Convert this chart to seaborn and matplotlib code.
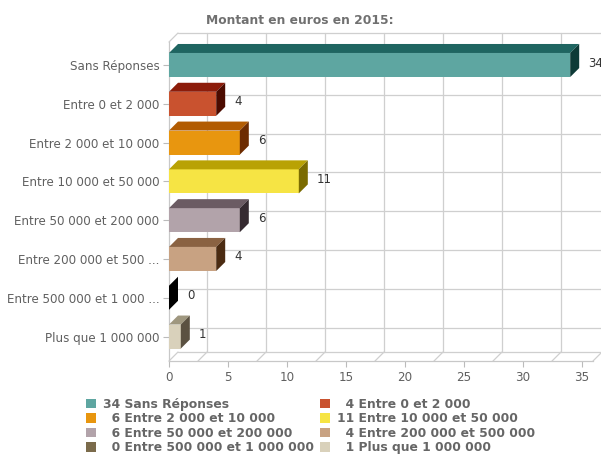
import matplotlib
matplotlib.use("Agg")
import matplotlib.pyplot as plt
from matplotlib.patches import Polygon, Patch
import seaborn as sns
import pandas as pd

# Survey answers: amount in euros, 2015
categories = [
    "Sans Réponses",
    "Entre 0 et 2 000",
    "Entre 2 000 et 10 000",
    "Entre 10 000 et 50 000",
    "Entre 50 000 et 200 000",
    "Entre 200 000 et 500 000",
    "Entre 500 000 et 1 000 000",
    "Plus que 1 000 000",
]
tick_labels = [
    "Sans Réponses",
    "Entre 0 et 2 000",
    "Entre 2 000 et 10 000",
    "Entre 10 000 et 50 000",
    "Entre 50 000 et 200 000",
    "Entre 200 000 et 500 ...",
    "Entre 500 000 et 1 000 ...",
    "Plus que 1 000 000",
]
counts = [34, 4, 6, 11, 6, 4, 0, 1]

# face colours: front, top, side
front_colors = ["#5ea6a1", "#c9522f", "#e8960f", "#f6e444", "#b2a3aa", "#c8a282", "#1a1a1a", "#d9d1bb"]
top_colors = ["#1f6561", "#8c1c0a", "#b25c02", "#b9a204", "#6b5b63", "#8a6242", "#111111", "#9f977f"]
side_colors = ["#0e3a37", "#4c0b00", "#6d2b00", "#7b6b00", "#362b31", "#4b2b12", "#000000", "#5b5141"]
legend_colors = ["#5ea6a1", "#c9522f", "#e8960f", "#f6e444", "#b2a3aa", "#c8a282", "#7b6b4b", "#d9d1bb"]

df = pd.DataFrame({"categorie": categories, "nombre": counts})

sns.set_theme(style="white")
plt.rcParams["font.family"] = ["DejaVu Sans"]

W, H = 601, 454
fig = plt.figure(figsize=(W / 100, H / 100), dpi=100)
left_px, right_px, top_px, bottom_px = 169, 593, 42, 361
ax = fig.add_axes([left_px / W, 1 - bottom_px / H,
                   (right_px - left_px) / W, (bottom_px - top_px) / H])

px_per_unit = 11.8
xmax = (right_px - left_px) / px_per_unit
ymin, ymax = -0.593, 7.63
ax.set_xlim(0, xmax)

sns.barplot(data=df, x="nombre", y="categorie", hue="categorie",
            palette=front_colors, orient="h", width=0.62, legend=False,
            saturation=1, ax=ax, linewidth=0, zorder=3)
ax.set_ylim(ymax, ymin)

# depth of the 3D effect, in data units
depth_px = 9
ddx = depth_px / px_per_unit
ddy = depth_px / ((bottom_px - top_px) / (ymax - ymin))

grid_kw = dict(color="#cfcfcf", lw=0.9, zorder=1, clip_on=False)

# back wall and floor
back_top = ymin - ddy
back_bottom = ymax - ddy
ax.plot([ddx, xmax + ddx], [back_top, back_top], **grid_kw)
ax.plot([ddx, xmax + ddx], [back_bottom, back_bottom], **grid_kw)
ax.plot([0, ddx], [ymin, back_top], **grid_kw)
ax.plot([0, ddx], [ymax, back_bottom], **grid_kw)
ax.plot([xmax, xmax + ddx], [ymax, back_bottom], **grid_kw)
grid_x = [2.46 + 5 * k for k in range(7)]
for gx in grid_x:
    ax.plot([gx + ddx, gx + ddx], [back_top, back_bottom], **grid_kw)
    ax.plot([gx, gx + ddx], [ymax, back_bottom], **grid_kw)
for k in range(1, len(categories)):
    ax.plot([ddx, xmax + ddx], [k - ddy, k - ddy], **grid_kw)

# 3D faces on each bar
for p in ax.patches:
    x0, y0 = p.get_x(), p.get_y()
    w, h = p.get_width(), p.get_height()
    i = int(round(y0 + h / 2))
    top = Polygon([(x0, y0), (x0 + w, y0), (x0 + w + ddx, y0 - ddy), (x0 + ddx, y0 - ddy)],
                  closed=True, facecolor=top_colors[i], edgecolor="none", zorder=4)
    side = Polygon([(x0 + w, y0), (x0 + w + ddx, y0 - ddy), (x0 + w + ddx, y0 + h - ddy), (x0 + w, y0 + h)],
                   closed=True, facecolor=side_colors[i], edgecolor="none", zorder=4)
    ax.add_patch(top)
    ax.add_patch(side)
    ax.annotate(str(counts[i]), xy=(x0 + w, i), xytext=(18, 2),
                textcoords="offset pixels", ha="left", va="center",
                fontsize=8.5, color="#333333", annotation_clip=False, zorder=5)

ax.set_xticks(range(0, 36, 5))
ax.set_yticks(range(len(categories)))
ax.set_yticklabels(tick_labels)
ax.set_xlabel("")
ax.set_ylabel("")
ax.tick_params(axis="both", colors="#bbbbbb", labelcolor="#606060", labelsize=8.6,
               length=4, width=0.8, direction="out", left=True, bottom=True, pad=3)
for s in ["top", "right"]:
    ax.spines[s].set_visible(False)
for s in ["left", "bottom"]:
    ax.spines[s].set_color("#c8c8c8")
    ax.spines[s].set_linewidth(0.9)

fig.text(300 / W, 1 - 21 / H, "Montant en euros en 2015:", ha="center", va="center",
         fontsize=8.8, fontweight="bold", color="#707070")

# legend, row-major order in two columns
fs = "\u2007"
legend_labels = [f"{c:>2}".replace(" ", fs) + " " + name for c, name in zip(counts, categories)]
handles = [Patch(facecolor=legend_colors[i], edgecolor="none", label=legend_labels[i])
           for i in range(len(categories))]
order = [0, 2, 4, 6, 1, 3, 5, 7]
leg = fig.legend([handles[i] for i in order], [legend_labels[i] for i in order],
                 loc="upper left", bbox_to_anchor=(86 / W, 1 - 398 / H), ncol=2,
                 frameon=False, fontsize=8.9, handlelength=0.8, handleheight=0.8,
                 handletextpad=0.55, columnspacing=0.5, labelspacing=0.12,
                 borderpad=0, borderaxespad=0)
for t in leg.get_texts():
    t.set_fontweight("bold")
    t.set_color("#666666")

fig.savefig("out.png", dpi=100)
